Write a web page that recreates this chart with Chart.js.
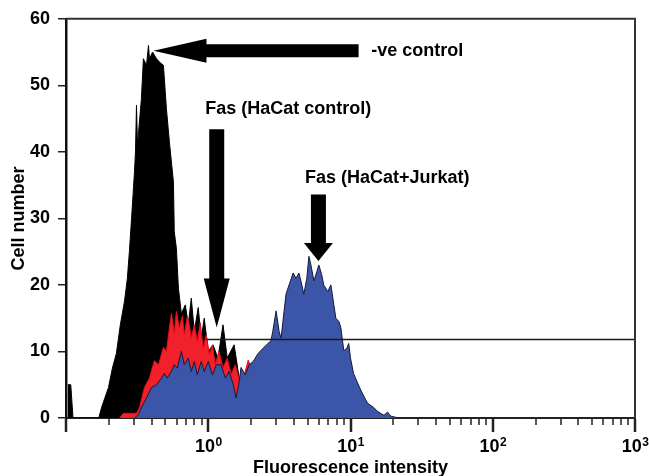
<!DOCTYPE html>
<html>
<head>
<meta charset="utf-8">
<script src="https://cdn.jsdelivr.net/npm/chart.js@4/dist/chart.umd.min.js"></script>
<style>
  html, body { margin: 0; padding: 0; background: #fff; }
  #wrap { width: 649px; height: 476px; position: relative; }
</style>
</head>
<body>
<div id="wrap"><canvas id="flowChart"></canvas></div>
<script>
// -ve control (black)
const negIntensity = [0.103, 0.108, 0.112, 0.170, 0.178, 0.199, 0.212, 0.226, 0.241, 0.258, 0.270, 0.279, 0.289, 0.303, 0.308, 0.313, 0.318, 0.339, 0.350, 0.368, 0.380, 0.386, 0.406, 0.433, 0.454, 0.484, 0.508, 0.533, 0.569, 0.577, 0.597, 0.617, 0.647, 0.690, 0.724, 0.760, 0.798, 0.850, 0.893, 0.937, 1.00, 1.08, 1.17, 1.27, 1.36, 1.52, 1.65, 1.85, 2.17, 2.55];
const negCount = [5, 5, 0, 0, 1.6, 4.6, 7.5, 9.7, 14, 17.6, 21, 25, 30, 37, 40, 47, 41, 48, 54, 53, 56, 54, 55, 54, 53.5, 53, 46.5, 41.5, 35.5, 28, 25.5, 19.5, 15.7, 17, 14, 18, 13, 16.6, 12, 15, 10, 11, 9, 14, 9, 11, 6, 5, 3, 0];

// Fas (HaCat control) (red)
const ctrlIntensity = [0.238, 0.253, 0.313, 0.328, 0.356, 0.386, 0.418, 0.447, 0.484, 0.508, 0.533, 0.551, 0.577, 0.597, 0.626, 0.657, 0.679, 0.713, 0.736, 0.760, 0.798, 0.837, 0.879, 0.922, 0.968, 1.02, 1.07, 1.12, 1.19, 1.27, 1.36, 1.45, 1.55, 1.65, 1.73, 1.82, 1.91, 2.00, 2.10, 2.28, 2.55, 3.82, 6.19, 8.55];
const ctrlCount = [0, 0.7, 0.7, 1.5, 4.6, 6, 8.6, 8, 10.6, 10, 13.5, 15.7, 12.7, 16, 13.5, 15.3, 12.5, 15.3, 14, 12, 14, 11.5, 14.3, 10.5, 12.5, 9.5, 11, 8, 10, 7.5, 9, 6.5, 8, 5.7, 4.5, 7, 8.7, 7.5, 8.5, 6, 4, 3, 1, 0];

// Fas (HaCat+Jurkat) (blue)
const jurkatIntensity = [0.303, 0.323, 0.339, 0.368, 0.399, 0.433, 0.469, 0.490, 0.514, 0.551, 0.577, 0.606, 0.647, 0.679, 0.724, 0.760, 0.798, 0.837, 0.893, 0.937, 1.00, 1.07, 1.14, 1.23, 1.32, 1.40, 1.50, 1.57, 1.65, 1.70, 1.82, 1.94, 2.07, 2.24, 2.43, 2.63, 2.76, 2.84, 3.00, 3.15, 3.25, 3.41, 3.52, 3.70, 3.95, 4.14, 4.34, 4.55, 4.70, 4.93, 5.10, 5.27, 5.53, 5.80, 5.99, 6.28, 6.48, 6.92, 7.28, 7.64, 7.89, 8.29, 8.55, 8.98, 9.43, 9.72, 10.0, 10.5, 11.1, 11.8, 12.6, 13.2, 14.5, 15.5, 16.3, 17.2, 18.2, 19.1, 20.8, 22.5];
const jurkatCount = [0, 0.5, 1.6, 3, 4.6, 5, 6, 6.7, 6, 7, 8, 7.5, 10, 8, 9, 7, 8.5, 6.5, 8.5, 7, 8.5, 6.5, 8, 8, 6, 7, 5, 3, 5.5, 7.6, 6.5, 8, 8.5, 9.7, 10.5, 11.2, 11.6, 13, 16.1, 13, 12, 16, 18.6, 20, 21.8, 21, 21.8, 20, 18.6, 21, 24.3, 23, 20.6, 22, 23, 21.5, 20, 19, 20, 17, 15, 14.5, 13.6, 10.1, 10.5, 11.2, 9, 6.7, 5.5, 4.2, 3, 2.2, 1.6, 1, 0.7, 0.4, 0.9, 0.3, 0.1, 0];

// marker gate
const gateRange = [0.97, 1000];
const gateLevel = 11.8;

// axes
const decades = [0.1, 1, 10, 100];
const decadeSteps = [1, 2, 3, 4, 5, 6, 7, 8, 9];
const xLabelValues = [1, 10, 100, 1000];
const xLabelExponents = ['0', '1', '2', '3'];
const yTicks = [0, 10, 20, 30, 40, 50, 60];

const xTickValues = decades.flatMap((d) => decadeSteps.map((s) => +(d * s).toPrecision(3))).concat([1000]);
const isDecade = (v) => v === 0.1 || xLabelValues.includes(v);

const toPoints = (xs, ys) => xs.map((x, i) => ({ x: x, y: ys[i] }));

const FONT = '"Liberation Sans", Arial, Helvetica, sans-serif';

// arrows + labels (data units for anchors, px for arrow body)
const notes = [
  { text: '-ve control', at: [14.0, 55.2], from: [11.4, 55.2], to: [0.412, 55.2], shaft: 6.5, headLen: 53, headHalf: 12 },
  { text: 'Fas (HaCat control)', at: [0.953, 46.4], from: [1.147, 43.4], to: [1.147, 13.6], shaft: 7.5, headLen: 49, headHalf: 13 },
  { text: 'Fas (HaCat+Jurkat)', at: [4.78, 36.0], from: [5.95, 33.6], to: [5.95, 23.6], shaft: 7.5, headLen: 18, headHalf: 14.5 },
];

const drawArrow = (ctx, x0, y0, x1, y1, shaft, headLen, headHalf) => {
  const len = Math.hypot(x1 - x0, y1 - y0);
  const ux = (x1 - x0) / len;
  const uy = (y1 - y0) / len;
  const px = -uy;
  const py = ux;
  const bx = x1 - ux * headLen;
  const by = y1 - uy * headLen;
  ctx.beginPath();
  ctx.moveTo(x0 + px * shaft, y0 + py * shaft);
  ctx.lineTo(bx + px * shaft, by + py * shaft);
  ctx.lineTo(bx + px * headHalf, by + py * headHalf);
  ctx.lineTo(x1, y1);
  ctx.lineTo(bx - px * headHalf, by - py * headHalf);
  ctx.lineTo(bx - px * shaft, by - py * shaft);
  ctx.lineTo(x0 - px * shaft, y0 - py * shaft);
  ctx.closePath();
  ctx.fill();
};

const notesPlugin = {
  id: 'notes',
  afterDatasetsDraw(chart) {
    const { ctx, scales } = chart;
    const xs = scales.x;
    const ys = scales.y;
    ctx.save();
    ctx.fillStyle = '#000';
    notes.forEach((n) => {
      drawArrow(ctx,
        xs.getPixelForValue(n.from[0]), ys.getPixelForValue(n.from[1]),
        xs.getPixelForValue(n.to[0]), ys.getPixelForValue(n.to[1]),
        n.shaft, n.headLen, n.headHalf);
      ctx.font = 'bold 18px ' + FONT;
      ctx.textAlign = 'left';
      ctx.textBaseline = 'middle';
      ctx.fillText(n.text, xs.getPixelForValue(n.at[0]), ys.getPixelForValue(n.at[1]));
    });
    ctx.restore();
  },
};

// box frame, log ticks and 10^n labels under the x axis
const framePlugin = {
  id: 'frame',
  afterDraw(chart) {
    const { ctx, chartArea, scales } = chart;
    ctx.save();
    ctx.strokeStyle = '#333';
    ctx.lineWidth = 2;
    ctx.beginPath();
    ctx.moveTo(chartArea.left, chartArea.top);
    ctx.lineTo(chartArea.right, chartArea.top);
    ctx.lineTo(chartArea.right, chartArea.bottom);
    ctx.stroke();

    ctx.strokeStyle = '#222';
    xTickValues.forEach((v) => {
      const x = Math.round(scales.x.getPixelForValue(v));
      const major = isDecade(v);
      ctx.lineWidth = major ? 2.5 : 1.5;
      ctx.beginPath();
      ctx.moveTo(x, chartArea.bottom + 1);
      ctx.lineTo(x, chartArea.bottom + (major ? 14 : 7));
      ctx.stroke();
    });

    ctx.fillStyle = '#000';
    ctx.textBaseline = 'alphabetic';
    ctx.textAlign = 'left';
    xLabelValues.forEach((v, i) => {
      const x = scales.x.getPixelForValue(v);
      ctx.font = 'bold 18px ' + FONT;
      const wBase = ctx.measureText('10').width;
      ctx.font = 'bold 12px ' + FONT;
      const wExp = ctx.measureText(xLabelExponents[i]).width;
      const start = x - (wBase + wExp) / 2;
      ctx.font = 'bold 18px ' + FONT;
      ctx.fillText('10', start, chartArea.bottom + 34);
      ctx.font = 'bold 12px ' + FONT;
      ctx.fillText(xLabelExponents[i], start + wBase + 0.5, chartArea.bottom + 28);
    });
    ctx.restore();
  },
};

const data = {
  datasets: [
    {
      label: 'gate',
      data: toPoints(gateRange, [gateLevel, gateLevel]),
      borderColor: '#1a1a1a',
      borderWidth: 1.3,
      pointRadius: 0,
      fill: false,
      order: 0,
    },
    {
      label: 'Fas (HaCat+Jurkat)',
      data: toPoints(jurkatIntensity, jurkatCount),
      borderColor: '#15193a',
      backgroundColor: '#3b56a8',
      borderWidth: 1,
      pointRadius: 0,
      tension: 0,
      fill: 'origin',
      order: 1,
    },
    {
      label: 'Fas (HaCat control)',
      data: toPoints(ctrlIntensity, ctrlCount),
      borderColor: '#e8101c',
      backgroundColor: '#f2202a',
      borderWidth: 1,
      pointRadius: 0,
      tension: 0,
      fill: 'origin',
      order: 2,
    },
    {
      label: '-ve control',
      data: toPoints(negIntensity, negCount),
      borderColor: '#000',
      backgroundColor: '#000',
      borderWidth: 1,
      pointRadius: 0,
      tension: 0,
      fill: 'origin',
      order: 3,
    },
  ],
};

const config = {
  type: 'line',
  data: data,
  options: {
    responsive: true,
    maintainAspectRatio: false,
    animation: false,
    layout: { padding: { top: 16, right: 14, left: 0, bottom: 0 } },
    plugins: {
      legend: { display: false },
      tooltip: { enabled: false },
    },
    scales: {
      x: {
        type: 'logarithmic',
        min: 0.1,
        max: 1000,
        afterBuildTicks: (scale) => {
          scale.ticks = xTickValues.map((v) => ({ value: v, major: isDecade(v) }));
        },
        afterFit: (scale) => {
          scale.height = 58;
        },
        grid: { display: false, drawTicks: false },
        border: { display: true, color: '#222', width: 2 },
        ticks: {
          autoSkip: false,
          maxRotation: 0,
          callback: () => '',
        },
        title: {
          display: true,
          text: 'Fluorescence intensity',
          color: '#000',
          font: { family: FONT, size: 18, weight: 'bold', lineHeight: 1 },
          padding: { top: 0, bottom: -1 },
        },
      },
      y: {
        min: 0,
        max: 60,
        afterBuildTicks: (scale) => {
          scale.ticks = yTicks.map((v) => ({ value: v }));
        },
        afterFit: (scale) => {
          scale.width = 66;
        },
        grid: { drawOnChartArea: false, drawTicks: true, tickLength: 8, color: '#222', lineWidth: 1.5 },
        border: { display: true, color: '#111', width: 2.5 },
        ticks: {
          padding: 8,
          color: '#000',
          font: { family: FONT, size: 18, weight: 'bold' },
        },
        title: {
          display: true,
          text: 'Cell number',
          color: '#000',
          font: { family: FONT, size: 18, weight: 'bold', lineHeight: 1 },
          padding: { top: 10, bottom: 0 },
        },
      },
    },
  },
  plugins: [notesPlugin, framePlugin],
};

window.flowChart = new Chart(document.getElementById('flowChart'), config);
</script>
</body>
</html>
